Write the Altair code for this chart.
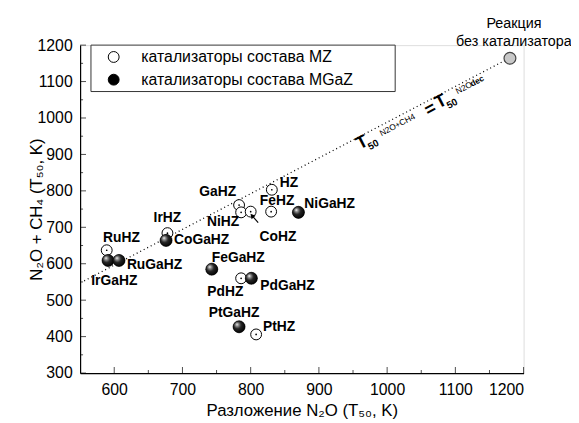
import altair as alt
import pandas as pd

# ---- data ----
mz_names = ["HZ", "GaHZ", "NiHZ", "CoHZ", "FeHZ", "IrHZ", "RuHZ", "PdHZ", "PtHZ"]
mz_x = [831, 783, 786, 800, 830, 678, 589, 786, 808]
mz_y = [803, 761, 741, 743, 743, 684, 637, 560, 406]

mgaz_names = ["NiGaHZ", "CoGaHZ", "IrGaHZ", "RuGaHZ", "FeGaHZ", "PdGaHZ", "PtGaHZ"]
mgaz_x = [870, 676, 591, 607, 743, 801, 783]
mgaz_y = [741, 664, 609, 609, 585, 560, 427]

ref_name = ["Реакция без катализатора"]
ref_x = [1180]
ref_y = [1164]

diag_x = [556, 1180]          # dotted guide line T50(N2O+CH4) = T50(N2O dec)
diag_y = [553, 1165]
anchor_x = [1000]             # point on the guide line where the formula sits
anchor_y = [988.5]
arrow_x = [811, 802]          # arrow pointing to CoHZ
arrow_y = [713, 732]

legend_labels = ["катализаторы состава MZ", "катализаторы состава MGaZ"]
x_ticks = [600, 700, 800, 900, 1000, 1100, 1200]
x_minor = [650, 750, 850, 950, 1050, 1150]
y_ticks = [300, 400, 500, 600, 700, 800, 900, 1000, 1100, 1200]
y_minor = [350, 450, 550, 650, 750, 850, 950, 1050, 1150]

FONT = "Liberation Sans"

pts = pd.DataFrame({
    "name": mz_names + mgaz_names,
    "x": mz_x + mgaz_x,
    "y": mz_y + mgaz_y,
    "type": [legend_labels[0]] * len(mz_names) + [legend_labels[1]] * len(mgaz_names),
})
mz_df = pts[pts["type"] == legend_labels[0]]
mgaz_df = pts[pts["type"] == legend_labels[1]]
ref_df = pd.DataFrame({"name": ref_name, "x": ref_x, "y": ref_y})
diag_df = pd.DataFrame({"x": diag_x, "y": diag_y})
arrow_df = pd.DataFrame({"x": arrow_x, "y": arrow_y})
anchor_df = pd.DataFrame({"x": anchor_x, "y": anchor_y})

xs = alt.Scale(domain=[550, 1200], nice=False, zero=False)
ys = alt.Scale(domain=[300, 1200], nice=False, zero=False)

X = alt.X("x:Q", scale=xs, axis=alt.Axis(
    values=x_ticks, format="d", labelOverlap=False, ticks=False, grid=False,
    domainColor="black", domainWidth=1.2,
    labelFont=FONT, labelFontSize=16, labelColor="black", labelPadding=9,
    title="Разложение N₂O  (T₅₀, K)", titleFont=FONT, titleFontSize=17,
    titleFontWeight="normal", titleColor="black", titleBaseline="alphabetic", titleY=43))
Y = alt.Y("y:Q", scale=ys, axis=alt.Axis(
    values=y_ticks, format="d", labelOverlap=False, ticks=False, grid=False,
    domainColor="black", domainWidth=1.2,
    labelFont=FONT, labelFontSize=16, labelColor="black", labelPadding=8,
    title="N₂O + CH₄  (T₅₀, K)", titleFont=FONT, titleFontSize=17,
    titleFontWeight="normal", titleColor="black", titleBaseline="alphabetic",
    titleAngle=270, titleX=-39, titleY=166, titleAlign="center"))

# legend frame (decoration behind the legend entries)
legend_frame = alt.Chart(pd.DataFrame({"k": [0]})).mark_rect(
    fill="white", stroke="#333", strokeWidth=1).encode(
    x=alt.value(11), x2=alt.value(319), y=alt.value(0), y2=alt.value(47))

# inward ticks
xt_major = alt.Chart(pd.DataFrame({"x": x_ticks, "y": [300] * len(x_ticks)})).mark_tick(
    orient="vertical", size=6, thickness=1, color="black", yOffset=-3).encode(x=X, y=Y)
xt_minor = alt.Chart(pd.DataFrame({"x": x_minor, "y": [300] * len(x_minor)})).mark_tick(
    orient="vertical", size=3, thickness=1, color="black", yOffset=-1.5).encode(x=X, y=Y)
yt_major = alt.Chart(pd.DataFrame({"x": [550] * len(y_ticks), "y": y_ticks})).mark_tick(
    orient="horizontal", size=6, thickness=1, color="black", xOffset=3).encode(x=X, y=Y)
yt_minor = alt.Chart(pd.DataFrame({"x": [550] * len(y_minor), "y": y_minor})).mark_tick(
    orient="horizontal", size=3, thickness=1, color="black", xOffset=1.5).encode(x=X, y=Y)

diag = alt.Chart(diag_df).mark_line(color="black", strokeWidth=1.3, strokeDash=[1, 3]).encode(x=X, y=Y)

base_pts = alt.Chart(pts).mark_point(shape="circle", filled=True, size=121, stroke="black",
                                     strokeWidth=1, opacity=1).encode(
    x=X, y=Y,
    fill=alt.Fill("type:N", scale=alt.Scale(domain=legend_labels, range=["white", "black"]),
                  legend=alt.Legend(
                      orient="none", legendX=11, legendY=0, title=None,
                      padding=4, rowPadding=7,
                      labelFont=FONT, labelFontSize=16, labelColor="black", labelLimit=500,
                      symbolType="circle", symbolSize=121, symbolStrokeColor="black",
                      symbolStrokeWidth=1, symbolOffset=11, labelOffset=20)))

mz_dots = alt.Chart(mz_df).mark_point(shape="circle", filled=True, size=3, color="black",
                                       opacity=1).encode(x=X, y=Y)

sphere = alt.RadialGradient(
    gradient="radial", x1=0.32, y1=0.3, r1=0, x2=0.42, y2=0.42, r2=0.62,
    stops=[alt.GradientStop(offset=0, color="#ffffff"),
           alt.GradientStop(offset=0.18, color="#9a9a9a"),
           alt.GradientStop(offset=0.5, color="#252525"),
           alt.GradientStop(offset=1, color="#000000")])
spheres = alt.Chart(mgaz_df).mark_point(shape="circle", filled=True, size=150, fill=sphere,
                                         stroke="#000", strokeWidth=0.6, opacity=1).encode(x=X, y=Y)

ref_pt = alt.Chart(ref_df).mark_point(shape="circle", filled=True, size=144, fill="#c8c8c8",
                                       stroke="#444", strokeWidth=1.2, opacity=1).encode(x=X, y=Y)
ref_t1 = alt.Chart(ref_df).mark_text(text="Реакция", font=FONT, fontSize=14.5, color="black",
                                     dx=4, dy=-35, align="center").encode(x=X, y=Y)
ref_t2 = alt.Chart(ref_df).mark_text(text="без катализатора", font=FONT, fontSize=14.5, color="black",
                                     dx=4, dy=-16, align="center").encode(x=X, y=Y)

# label offsets (dx, dy, align)
offs = {
    "HZ": (8, -7, "left"), "GaHZ": (-3, -13, "right"), "FeHZ": (6, -11, "center"),
    "NiGaHZ": (6, -8, "left"), "NiHZ": (-2, 10, "right"), "CoHZ": (9, 26, "left"),
    "IrHZ": (0, -15, "center"), "CoGaHZ": (8, 0, "left"), "RuHZ": (15, -12, "center"),
    "RuGaHZ": (8, 5, "left"), "IrGaHZ": (-17, 21, "left"), "FeGaHZ": (0, -11, "left"),
    "PdHZ": (-16, 14, "center"), "PdGaHZ": (9, 8, "left"), "PtGaHZ": (-5, -14, "center"),
    "PtHZ": (7, -7, "left"),
}
labels = []
for n, (dx, dy, al) in offs.items():
    labels.append(alt.Chart(pts).transform_filter(alt.datum.name == n).mark_text(
        font=FONT, fontSize=14, fontWeight="bold", color="black", dx=dx, dy=dy,
        align=al, baseline="middle").encode(x=X, y=Y, text="name:N"))

arrow_line = alt.Chart(arrow_df).mark_line(color="black", strokeWidth=1.2).encode(x=X, y=Y)
arrow_head = alt.Chart(arrow_df.iloc[[1]]).mark_point(shape="triangle-up", filled=True, size=30,
                                                       color="black", angle=319, opacity=1).encode(x=X, y=Y)

# formula along the dotted line (dx along the line, dy across it)
ANG = 332.4
formula_parts = [
    ("T", -32, 7, 18, "bold"),
    ("50", -23, 14, 10, "bold"),
    ("N2O+CH4", 8, 7, 8.5, "normal"),
    ("=", 45, 9, 18, "bold"),
    ("T", 58, 7, 18, "bold"),
    ("50", 67, 14, 10, "bold"),
    ("N2O", 85, 5, 8.5, "normal"),
    ("dec", 100, 5, 8.5, "bold"),
]
formula = []
for txt, dx, dy, fs, fw in formula_parts:
    formula.append(alt.Chart(anchor_df).mark_text(
        text=txt, font=FONT, fontSize=fs, fontWeight=fw, color="black", angle=ANG,
        dx=dx, dy=dy, align="center", baseline="middle").encode(x=X, y=Y))

chart = alt.layer(
    legend_frame, diag, xt_major, xt_minor, yt_major, yt_minor, base_pts, spheres, mz_dots, ref_pt,
    ref_t1, ref_t2, arrow_line, arrow_head, *labels, *formula
).properties(
    width=449, height=332,
    padding={"left": 73, "top": 35, "right": 48, "bottom": 48},
    autosize=alt.AutoSizeParams(type="none"),
).configure_view(stroke=None).configure_axis(labelOverlap=False).configure(background="white")

chart.save("out.html", embed_options={"renderer": "svg", "actions": False})
